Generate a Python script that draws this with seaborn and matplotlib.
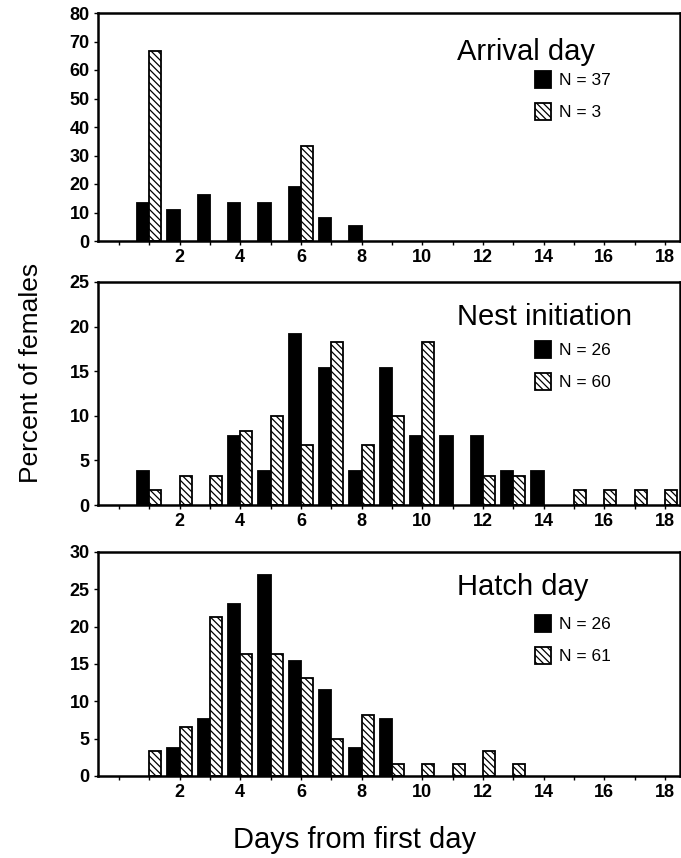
import pandas as pd
import matplotlib
matplotlib.use("Agg")
import matplotlib.pyplot as plt
import seaborn as sns

# Percent of females per day, black bars (first group) and hatched bars (second group)
days = list(range(1, 19))
arrival_black = [13.5, 10.8, 16.2, 13.5, 13.5, 18.9, 8.1, 5.4, 0, 0, 0, 0, 0, 0, 0, 0, 0, 0]
arrival_hatch = [66.7, 0, 0, 0, 0, 33.3, 0, 0, 0, 0, 0, 0, 0, 0, 0, 0, 0, 0]
nest_black = [3.8, 0, 0, 7.7, 3.8, 19.2, 15.4, 3.8, 15.4, 7.7, 7.7, 7.7, 3.8, 3.8, 0, 0, 0, 0]
nest_hatch = [1.7, 3.3, 3.3, 8.3, 10.0, 6.7, 18.3, 6.7, 10.0, 18.3, 0, 3.3, 3.3, 0, 1.7, 1.7, 1.7, 1.7]
hatchday_black = [0, 3.8, 7.7, 23.1, 26.9, 15.4, 11.5, 3.8, 7.7, 0, 0, 0, 0, 0, 0, 0, 0, 0]
hatchday_hatch = [3.3, 6.6, 21.3, 16.4, 16.4, 13.1, 4.9, 8.2, 1.6, 1.6, 1.6, 3.3, 1.6, 0, 0, 0, 0, 0]

titles = ["Arrival day", "Nest initiation", "Hatch day"]
legend_labels = [["N = 37", "N = 3"], ["N = 26", "N = 60"], ["N = 26", "N = 61"]]
y_max = [80, 25, 30]
y_step = [10, 5, 5]
panels = [(arrival_black, arrival_hatch), (nest_black, nest_hatch), (hatchday_black, hatchday_hatch)]

sns.set_style("ticks")
plt.rcParams["font.family"] = ["Liberation Sans", "DejaVu Sans"]
plt.rcParams["hatch.linewidth"] = 0.9
plt.rcParams["axes.edgecolor"] = "black"
plt.rcParams["text.color"] = "black"
plt.rcParams["xtick.color"] = "black"
plt.rcParams["ytick.color"] = "black"

W, H = 681, 858
fig = plt.figure(figsize=(W / 100, H / 100), dpi=100)

# axes boxes in pixels: top, bottom
boxes = [(13, 241), (282, 505), (552, 776)]
left_px, right_px = 98, 680
title_base = [47, 43, 43]   # px below top spine
legend_top = [58, 59, 63]   # px below top spine

for i, (black, hatch) in enumerate(panels):
    top, bot = boxes[i]
    ax = fig.add_axes([left_px / W, 1 - bot / H, (right_px - left_px) / W, (bot - top) / H])

    df = pd.DataFrame({
        "day": days * 2,
        "pct": black + hatch,
        "group": ["a"] * 18 + ["b"] * 18,
    })
    df = df[df["pct"] > 0]

    sns.barplot(data=df, x="day", y="pct", hue="group", hue_order=["a", "b"],
                palette={"a": "black", "b": "white"}, native_scale=True,
                width=0.8, saturation=1, errorbar=None, legend=False,
                edgecolor="black", linewidth=1.3, ax=ax)
    for bar in ax.containers[1]:
        bar.set_hatch("\\\\\\\\\\")

    ax.set_xlim(-0.69, 18.5)
    ax.set_ylim(0, y_max[i])
    ax.set_xticks(range(0, 19))
    ax.set_xticklabels([str(d) if d % 2 == 0 and d > 0 else "" for d in range(0, 19)])
    ax.set_yticks(range(0, y_max[i] + 1, y_step[i]))
    ax.set_xlabel("")
    ax.set_ylabel("")
    ax.tick_params(axis="both", direction="out", length=3, width=1, pad=3, colors="black")
    for lab in ax.get_xticklabels() + ax.get_yticklabels():
        lab.set_fontsize(13)
        lab.set_fontweight("bold")
    for sp in ax.spines.values():
        sp.set_linewidth(1.8)
        sp.set_color("black")

    h = bot - top
    ax.text(0.617, 1 - title_base[i] / h, titles[i], transform=ax.transAxes,
            fontsize=21, ha="left", va="baseline")

    ax.legend(handles=[ax.containers[0], ax.containers[1]], labels=legend_labels[i],
              loc="upper left", bbox_to_anchor=(0.751, 1 - legend_top[i] / h),
              frameon=False, fontsize=12.5, handlelength=0.9, handleheight=1.1,
              handletextpad=0.5, labelspacing=0.85, borderpad=0, borderaxespad=0)

fig.text(31 / W, 1 - 373 / H, "Percent of females", rotation=90,
         fontsize=19, ha="center", va="center")
fig.text(355 / W, 1 - 848 / H, "Days from first day", fontsize=21,
         ha="center", va="baseline")

fig.savefig("out.png", dpi=100)
